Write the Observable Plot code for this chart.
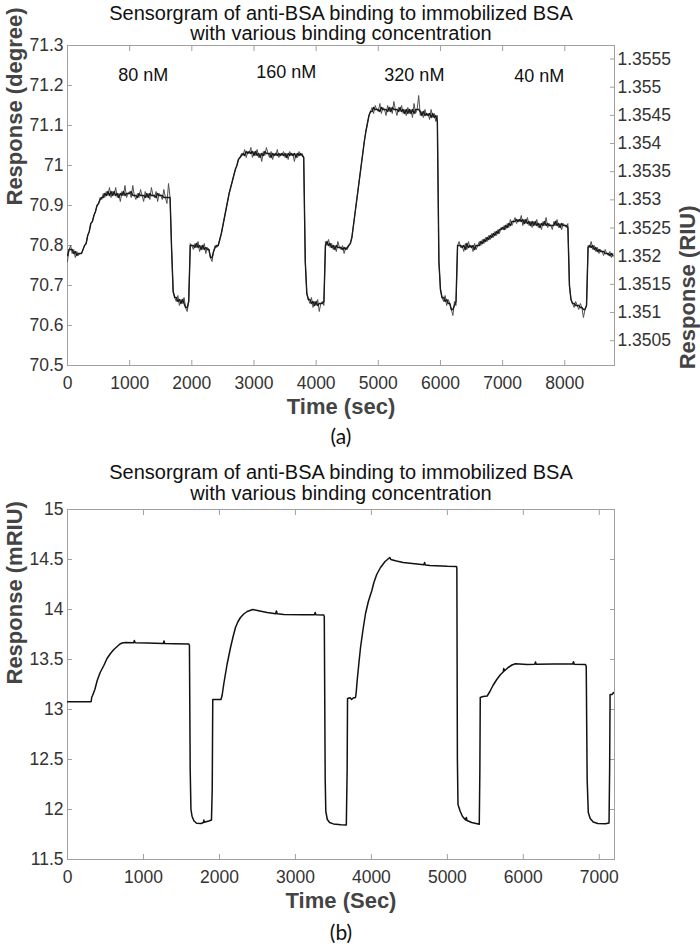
<!DOCTYPE html>
<html><head><meta charset="utf-8">
<script src="https://cdn.jsdelivr.net/npm/d3@7"></script>
<script src="https://cdn.jsdelivr.net/npm/@observablehq/plot@0.6"></script>
<style>
body{margin:0;background:#fff;}
#fig{width:700px;height:949px;overflow:hidden;background:#fff;}
#fig svg{display:block;}
</style>
</head><body><div id="fig"></div>
<script>
// ---------- Panel (a) data ----------
const titleA = ["Sensorgram of anti-BSA binding to immobilized BSA", "with various binding concentration"];
const xTicksA = [0,1000,2000,3000,4000,5000,6000,7000,8000];
const yTicksA = [70.5,70.6,70.7,70.8,70.9,71,71.1,71.2,71.3];
const riuTicks = [1.3505,1.351,1.3515,1.352,1.3525,1.353,1.3535,1.354,1.3545,1.355,1.3555];
const degDomain = [70.5, 71.3];
const riuDomain = [1.35006, 1.35574];
const concLabels = ["80 nM","160 nM","320 nM","40 nM"];
const concTime = [1220, 3520, 5580, 7590];
const concY = [71.225, 71.232, 71.225, 71.222];
const sampleStepA = 25; // seconds between samples
const responseDeg = [
70.76,70.79,70.80,70.78,70.79,70.77,70.785,70.775,70.78,70.78,70.79,70.80,70.805,70.825,70.835,70.855,70.86,70.875,70.885,70.90,
70.905,70.92,70.915,70.93,70.92,70.935,70.925,70.945,70.92,70.935,70.925,70.945,70.92,70.93,70.91,70.935,70.925,70.95,70.92,70.93,
70.935,70.92,70.95,70.925,70.915,70.93,70.92,70.94,70.925,70.91,70.935,70.92,70.93,70.915,70.945,70.925,70.92,70.935,70.91,70.93,
70.925,70.915,70.94,70.92,70.905,70.955,70.92,70.79,70.685,70.67,70.66,70.675,70.65,70.665,70.655,70.67,70.645,70.635,70.66,70.805,
70.80,70.79,70.805,70.795,70.81,70.785,70.80,70.79,70.805,70.78,70.795,70.79,70.77,70.76,70.785,70.80,70.795,70.80,70.815,70.83,
70.85,70.87,70.89,70.91,70.93,70.945,70.96,70.975,70.99,71.00,71.015,71.02,71.03,71.025,71.04,71.02,71.035,71.03,71.045,71.02,
71.035,71.025,71.04,71.02,71.03,71.01,71.035,71.025,71.045,71.03,71.02,71.035,71.015,71.03,71.025,71.04,71.02,71.03,71.025,71.035,
71.02,71.03,71.015,71.035,71.025,71.03,71.01,71.03,71.02,71.035,71.025,71.03,71.02,70.76,70.68,70.665,70.655,70.67,70.645,70.66,
70.65,70.665,70.635,70.655,70.66,70.65,70.81,70.80,70.815,70.795,70.805,70.79,70.80,70.785,70.81,70.795,70.79,70.80,70.78,70.795,
70.79,70.80,70.805,70.82,70.85,70.88,70.91,70.94,70.97,71.00,71.03,71.06,71.085,71.105,71.125,71.135,71.145,71.13,71.15,71.14,
71.135,71.155,71.13,71.145,71.14,71.125,71.15,71.135,71.145,71.13,71.16,71.14,71.125,71.145,71.135,71.15,71.13,71.14,71.125,71.145,
71.13,71.14,71.12,71.155,71.13,71.14,71.175,71.125,71.135,71.12,71.14,71.125,71.13,71.115,71.14,71.12,71.13,71.11,71.125,70.76,
70.69,70.67,70.66,70.675,70.65,70.665,70.655,70.64,70.625,70.66,70.65,70.80,70.81,70.795,70.80,70.785,70.805,70.79,70.81,70.795,
70.80,70.785,70.805,70.79,70.80,70.81,70.80,70.815,70.805,70.82,70.81,70.825,70.815,70.83,70.82,70.835,70.825,70.84,70.83,70.845,
70.84,70.85,70.84,70.855,70.845,70.865,70.85,70.86,70.87,70.855,70.865,70.86,70.875,70.85,70.865,70.855,70.87,70.85,70.86,70.845,
70.86,70.85,70.865,70.845,70.855,70.84,70.86,70.85,70.87,70.845,70.855,70.85,70.84,70.86,70.85,70.865,70.845,70.855,70.84,70.855,
70.85,70.845,70.855,70.70,70.665,70.655,70.645,70.66,70.65,70.64,70.655,70.645,70.62,70.64,70.65,70.80,70.795,70.81,70.79,70.80,
70.785,70.795,70.78,70.79,70.785,70.775,70.79,70.78,70.775,70.785,70.77,70.78
];

// ---------- Panel (b) data ----------
const titleB = ["Sensorgram of anti-BSA binding to immobilized BSA", "with various binding concentration"];
const xTicksB = [0,1000,2000,3000,4000,5000,6000,7000];
const yTicksB = [11.5,12,12.5,13,13.5,14,14.5,15];
const timeB = [0,300,312,318,330,360,391,430,478,520,
566,610,654,690,720,760,870,880,890,1050,
1260,1270,1280,1400,1597,1605,1615,1625,1640,1665,
1700,1760,1790,1795,1800,1860,1895,1905,1912,2020,
2035,2058,2100,2146,2180,2211,2245,2277,2320,2365,
2439,2530,2628,2740,2750,2760,2848,3100,3250,3260,
3270,3372,3380,3392,3400,3420,3450,3500,3600,3670,
3681,3686,3720,3740,3760,3791,3800,3813,3835,3857,
3890,3923,3960,4006,4033,4070,4120,4180,4243,4255,
4330,4418,4600,4690,4700,4710,4771,5000,5120,5125,
5132,5140,5170,5200,5240,5250,5258,5320,5420,5428,
5433,5470,5524,5560,5600,5650,5700,5735,5742,5750,
5800,5850,5896,6050,6150,6160,6170,6400,6650,6660,
6670,6818,6828,6840,6855,6880,6920,6980,7080,7128,
7136,7142,7170,7185,7200];
const responseMRIU = [13.077,13.077,13.08,13.12,13.14,13.2,13.29,13.37,13.44,13.51,
13.56,13.6,13.63,13.655,13.665,13.67,13.668,13.69,13.668,13.665,
13.66,13.685,13.66,13.657,13.655,13.64,12.4,12.0,11.93,11.885,
11.862,11.86,11.87,11.895,11.872,11.885,11.895,12.2,13.1,13.1,
13.14,13.26,13.45,13.62,13.73,13.82,13.88,13.92,13.955,13.98,
14.0,13.985,13.97,13.958,13.985,13.957,13.95,13.948,13.947,13.97,
13.947,13.945,13.93,12.3,11.98,11.9,11.87,11.856,11.848,11.845,
12.4,13.11,13.117,13.1,13.115,13.12,13.17,13.29,13.46,13.62,
13.8,13.96,14.08,14.19,14.27,14.35,14.42,14.48,14.52,14.5,
14.485,14.47,14.455,14.447,14.47,14.445,14.44,14.432,14.43,14.41,
12.5,12.05,11.98,11.93,11.895,11.92,11.89,11.87,11.852,12.4,
13.12,13.13,13.135,13.18,13.24,13.3,13.35,13.375,13.41,13.385,
13.42,13.445,13.457,13.45,13.452,13.475,13.452,13.455,13.455,13.478,
13.452,13.45,13.43,12.3,11.97,11.91,11.875,11.86,11.858,11.865,
12.4,13.15,13.15,13.17,13.16];

// ---------- helpers ----------
const FONT = "'Liberation Sans', Arial, Helvetica, sans-serif";
const AXIS = "#a0a0a0", TXT = "#333";
const toDeg = r => degDomain[0] + (r - riuDomain[0]) * (degDomain[1] - degDomain[0]) / (riuDomain[1] - riuDomain[0]);
const toRiu = d => riuDomain[0] + (d - degDomain[0]) * (riuDomain[1] - riuDomain[0]) / (degDomain[1] - degDomain[0]);
const fmt = d => String(+(+d).toFixed(4));

const dataA = responseDeg.map((v, i) => ({t: i * sampleStepA, v}));
const dataB = timeB.map((t, i) => ({t, v: responseMRIU[i]}));
const concData = concLabels.map((s, i) => ({s, t: concTime[i], y: concY[i]}));

function frameMarks(xTicks, yTicks, rightTicks, rightFormat) {
  return [
    Plot.frame({stroke: AXIS}),
    Plot.axisX({ticks: xTicks, anchor: "bottom", tickSize: -5, tickPadding: 16, stroke: AXIS, fill: TXT, label: null, tickFormat: fmt}),
    Plot.axisX({ticks: xTicks, anchor: "top", tickSize: -5, stroke: AXIS, label: null, tickFormat: () => ""}),
    Plot.axisY({ticks: yTicks, anchor: "left", tickSize: -5, tickPadding: 9, stroke: AXIS, fill: TXT, label: null, tickFormat: fmt}),
    Plot.axisY({ticks: rightTicks, anchor: "right", tickSize: -5, tickPadding: 8, stroke: AXIS, fill: TXT, label: null, tickFormat: rightFormat})
  ];
}

function textMarks(title, xLabel, yLabel, caption, titleDy, capDy) {
  return [
    Plot.text([title[0]], {text: d => d, frameAnchor: "top", dy: titleDy[0], fontSize: 20, fill: "#111", lineAnchor: "middle"}),
    Plot.text([title[1]], {text: d => d, frameAnchor: "top", dy: titleDy[1], fontSize: 20, fill: "#111", lineAnchor: "middle"}),
    Plot.text([xLabel], {text: d => d, frameAnchor: "bottom", dy: 41, fontSize: 22, fontWeight: "bold", fill: "#444", lineAnchor: "middle"}),
    Plot.text([yLabel], {text: d => d, frameAnchor: "left", dx: -53, rotate: -90, fontSize: 22, fontWeight: "bold", fill: "#444", lineAnchor: "middle"}),
    Plot.text([caption], {text: d => d, frameAnchor: "bottom", dy: capDy, fontSize: 21, fontFamily: "Lato, 'Open Sans', sans-serif", fill: "#111", lineAnchor: "middle"})
  ];
}

// ---------- Panel (a) ----------
const plotA = Plot.plot({
  width: 700, height: 455,
  marginTop: 45, marginBottom: 90, marginLeft: 67, marginRight: 86,
  x: {domain: [0, 8800], label: null},
  y: {domain: degDomain, label: null},
  style: {fontFamily: FONT, fontSize: "17.5px", color: TXT, background: "transparent", overflow: "visible"},
  marks: [
    ...frameMarks(xTicksA, yTicksA, riuTicks.map(toDeg), d => fmt(toRiu(d))),
    // raw noisy trace and its running median (dark core)
    Plot.line(dataA, {x: "t", y: "v", stroke: "#505050", strokeWidth: 1.0, clip: true}),
    Plot.line(dataA, Plot.windowY({k: 3, reduce: "median"}, {x: "t", y: "v", stroke: "#1a1a1a", strokeWidth: 1.4, clip: true})),
    Plot.text(concData, {x: "t", y: "y", text: "s", fontSize: 18, fill: "#111"}),
    ...textMarks(titleA, "Time (sec)", "Response (degree)", "(a)", [-32, -12], 72),
    Plot.text(["Response (RIU)"], {text: d => d, frameAnchor: "right", dx: 73, rotate: -90, fontSize: 22, fontWeight: "bold", fill: "#444", lineAnchor: "middle"})
  ]
});

// ---------- Panel (b) ----------
const plotB = Plot.plot({
  width: 700, height: 494,
  marginTop: 54, marginBottom: 90, marginLeft: 67, marginRight: 86,
  x: {domain: [0, 7200], label: null},
  y: {domain: [11.5, 15], label: null},
  style: {fontFamily: FONT, fontSize: "17.5px", color: TXT, background: "transparent", overflow: "visible"},
  marks: [
    ...frameMarks(xTicksB, yTicksB, yTicksB, () => ""),
    Plot.line(dataB, {x: "t", y: "v", stroke: "#111", strokeWidth: 1.5, clip: true}),
    ...textMarks(titleB, "Time (Sec)", "Response (mRIU)", "(b)", [-37, -16], 74)
  ]
});

const fig = document.getElementById("fig");
fig.append(plotA, plotB);
</script>
</body></html>
